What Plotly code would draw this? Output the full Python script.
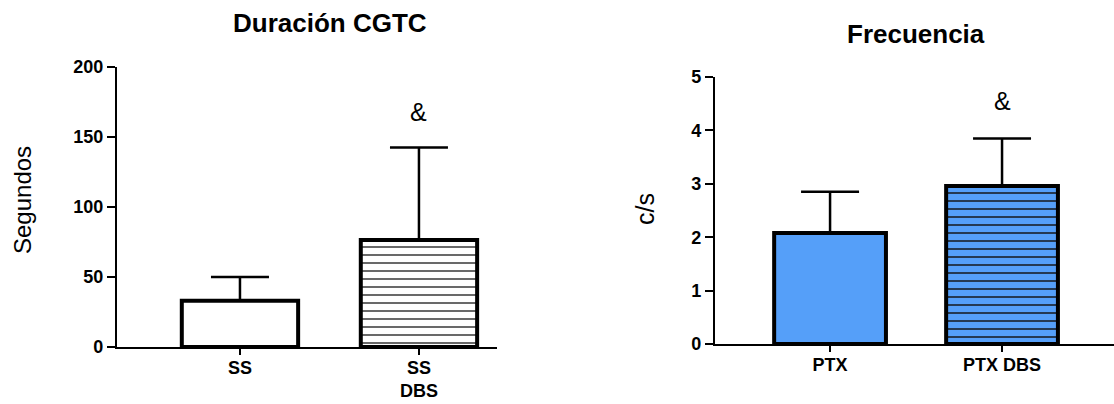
import plotly.graph_objects as go

# ---- data ----
dur_categories = ["SS", "SS<br>DBS"]
dur_means = [33, 76.5]
dur_errors = [17, 66]

freq_categories = ["PTX", "PTX DBS"]
freq_means = [2.08, 2.96]
freq_errors = [0.77, 0.89]

dur_ticks = [0, 50, 100, 150, 200]
freq_ticks = [0, 1, 2, 3, 4, 5]

sig_marker = "&"

BLUE = "#559FF9"
FONT = "Liberation Sans, Arial, Helvetica, sans-serif"

fig = go.Figure()

# Left chart: Duración CGTC
fig.add_trace(go.Bar(
    x=dur_categories, y=dur_means, width=0.65,
    marker=dict(
        color="white",
        line=dict(color="black", width=4),
        pattern=dict(shape=["", "-"], fgcolor=["#222222", "#222222"], fgopacity=1,
                     size=8, solidity=0.17, fillmode="overlay"),
    ),
    error_y=dict(type="data", array=dur_errors, arrayminus=[0, 0],
                 symmetric=False, color="black", thickness=2.5, width=29),
    xaxis="x", yaxis="y", showlegend=False,
))

# Right chart: Frecuencia
fig.add_trace(go.Bar(
    x=freq_categories, y=freq_means, width=0.65,
    marker=dict(
        color=BLUE,
        line=dict(color="black", width=4),
        pattern=dict(shape=["", "-"], fgcolor=["#111111", "#111111"], fgopacity=1,
                     size=8, solidity=0.18, fillmode="overlay"),
    ),
    error_y=dict(type="data", array=freq_errors, arrayminus=[0, 0],
                 symmetric=False, color="black", thickness=2.5, width=29),
    xaxis="x2", yaxis="y2", showlegend=False,
))

W, H = 1114, 404

axis_common = dict(
    showline=True, linecolor="black", linewidth=2.2,
    ticks="outside", tickcolor="black", tickwidth=2.2,
    showgrid=False, zeroline=False, automargin=False,
    tickfont=dict(family=FONT, size=18, color="black", weight="bold"),
)

fig.update_layout(
    width=W, height=H,
    margin=dict(l=0, r=0, t=0, b=0, autoexpand=False),
    paper_bgcolor="white", plot_bgcolor="white",
    xaxis=dict(domain=[117 / W, 497 / W], range=[-0.687, 1.436],
               type="category", ticklen=6, ticklabelstandoff=-3, **axis_common),
    yaxis=dict(domain=[(H - 347) / H, (H - 67) / H], range=[0, 200],
               tickvals=dur_ticks, ticklen=8, anchor="x", **axis_common),
    xaxis2=dict(domain=[715 / W, 1.0], range=[-0.669, 1.651],
                type="category", ticklen=6, ticklabelstandoff=-3, anchor="y2", **axis_common),
    yaxis2=dict(domain=[(H - 344) / H, (H - 77) / H], range=[0, 5],
                tickvals=freq_ticks, ticklen=8, anchor="x2", **axis_common),
)

annotations = [
    dict(text="Duración CGTC", x=330 / W, y=(H - 23) / H, xref="paper", yref="paper",
         showarrow=False, font=dict(family=FONT, size=26, color="black", weight="bold"),
         xanchor="center", yanchor="middle"),
    dict(text="Frecuencia", x=916 / W, y=(H - 34) / H, xref="paper", yref="paper",
         showarrow=False, font=dict(family=FONT, size=26, color="black", weight="bold"),
         xanchor="center", yanchor="middle"),
    dict(text="Segundos", x=22 / W, y=(H - 200) / H, xref="paper", yref="paper",
         showarrow=False, textangle=-90, font=dict(family=FONT, size=24, color="black"),
         xanchor="center", yanchor="middle"),
    dict(text="c/s", x=645 / W, y=(H - 209) / H, xref="paper", yref="paper",
         showarrow=False, textangle=-90, font=dict(family=FONT, size=25, color="black"),
         xanchor="center", yanchor="middle"),
    dict(text=sig_marker, x=dur_categories[1], y=dur_means[1] + dur_errors[1],
         xref="x", yref="y", yshift=36, showarrow=False,
         font=dict(family=FONT, size=25, color="black"), yanchor="middle"),
    dict(text=sig_marker, x=freq_categories[1], y=freq_means[1] + freq_errors[1],
         xref="x2", yref="y2", yshift=37, showarrow=False,
         font=dict(family=FONT, size=25, color="black"), yanchor="middle"),
]
fig.update_layout(annotations=annotations)

fig.write_html("out.html")
